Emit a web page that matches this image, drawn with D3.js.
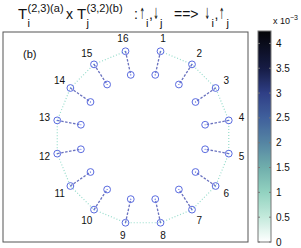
<!DOCTYPE html>
<html>
<head>
<meta charset="utf-8">
<script src="https://cdn.jsdelivr.net/npm/d3@7"></script>
<style>
  body { margin: 0; background: #fff; }
  text { font-family: "Liberation Sans", Arial, sans-serif; fill: #111; }
</style>
</head>
<body>
<svg></svg>
<script>
let width = 301, height = 248;

// sites on the ring (order 1..16), in ring-radius units
let siteIds = [1, 2, 3, 4, 5, 6, 7, 8, 9, 10, 11, 12, 13, 14, 15, 16];
let ringX = [0.20, 0.56, 0.83, 0.98, 0.98, 0.83, 0.56, 0.20, -0.20, -0.56, -0.83, -0.98, -0.98, -0.83, -0.56, -0.20];
let ringY = [0.98, 0.83, 0.56, 0.19, -0.19, -0.56, -0.83, -0.98, -0.98, -0.83, -0.56, -0.19, 0.19, 0.56, 0.83, 0.98];
// partner sites
let pairX = [0.14, 0.41, 0.60, 0.71, 0.71, 0.60, 0.41, 0.14, -0.14, -0.41, -0.60, -0.71, -0.71, -0.60, -0.41, -0.14];
let pairY = [0.71, 0.60, 0.40, 0.14, -0.14, -0.40, -0.60, -0.71, -0.71, -0.60, -0.40, -0.14, 0.14, 0.40, 0.60, 0.71];

// colorbar
let cbTicks = [0, 0.5, 1, 1.5, 2, 2.5, 3, 3.5, 4];
let cbMax = 4.25;
let cmapStops = [0, 0.5, 1, 1.5, 2, 2.5, 3, 3.5, 4.25];
let cmapColors = ["#ffffff", "#c4eadc", "#92d2c0", "#70aeac", "#5585a3", "#40609c", "#2f3f86", "#161c44", "#040407"];

let svg = d3.select("svg").attr("width", width).attr("height", height);

let x = d3.scaleLinear().domain([-1.6, 1.2]).range([3, 248]);
let y = d3.scaleLinear().domain([-1.2, 1.2]).range([242, 32]);

// plot box
svg.append("rect")
    .attr("x", 3).attr("y", 32).attr("width", 245).attr("height", 210)
    .attr("fill", "none").attr("stroke", "#555").attr("stroke-width", 1);

svg.append("text").attr("x", 23).attr("y", 58).attr("font-size", 11).text("(b)");

let sites = siteIds.map((id, i) => ({ id: id, x: ringX[i], y: ringY[i], px: pairX[i], py: pairY[i] }));

// ring bonds (dotted)
let ringLine = d3.line().x(d => x(d.x)).y(d => y(d.y));
svg.append("path")
    .attr("d", ringLine(sites))
    .attr("fill", "none")
    .attr("stroke", "#96dccb")
    .attr("stroke-width", 1.2)
    .attr("stroke-dasharray", "1,2");

// pair bonds (dashed)
svg.append("g").selectAll("line")
    .data(sites).enter().append("line")
    .attr("x1", d => x(d.x)).attr("y1", d => y(d.y))
    .attr("x2", d => x(d.px)).attr("y2", d => y(d.py))
    .attr("stroke", "#6a72bf")
    .attr("stroke-width", 1.3)
    .attr("stroke-dasharray", "2.5,1.5");

// markers
let pts = [];
sites.forEach(d => { pts.push([d.x, d.y]); pts.push([d.px, d.py]); });
let mk = svg.append("g").selectAll("g").data(pts).enter().append("g");
mk.append("circle")
    .attr("cx", d => x(d[0])).attr("cy", d => y(d[1])).attr("r", 3.4)
    .attr("fill", "none").attr("stroke", "#5a6be0").attr("stroke-width", 1);
mk.append("circle")
    .attr("cx", d => x(d[0])).attr("cy", d => y(d[1])).attr("r", 0.6)
    .attr("fill", "#5a6be0");

// site numbers, pushed out radially
svg.append("g").selectAll("text")
    .data(sites).enter().append("text")
    .attr("x", d => x(d.x) + 13 * d.x / Math.hypot(d.x, d.y))
    .attr("y", d => y(d.y) - 13 * d.y / Math.hypot(d.x, d.y))
    .attr("text-anchor", "middle")
    .attr("dominant-baseline", "central")
    .attr("font-size", 10)
    .text(d => d.id);

// colorbar
let cb = d3.scaleLinear().domain([0, cbMax]).range([242, 31]);
let cmap = d3.scaleLinear().domain(cmapStops).range(cmapColors);
let defs = svg.append("defs");
let grad = defs.append("linearGradient").attr("id", "cbgrad")
    .attr("x1", 0).attr("y1", 1).attr("x2", 0).attr("y2", 0);
d3.range(0, cbMax + 0.001, 0.05).forEach(v => {
    grad.append("stop").attr("offset", v / cbMax).attr("stop-color", cmap(v));
});
svg.append("rect")
    .attr("x", 258).attr("y", cb(cbMax)).attr("width", 13).attr("height", cb(0) - cb(cbMax))
    .attr("fill", "url(#cbgrad)").attr("stroke", "#777").attr("stroke-width", 1);

let tk = svg.append("g").selectAll("g").data(cbTicks).enter().append("g");
tk.append("line")
    .attr("x1", 258).attr("x2", 260).attr("y1", d => cb(d)).attr("y2", d => cb(d))
    .attr("stroke", "#777");
tk.append("line")
    .attr("x1", 269).attr("x2", 271).attr("y1", d => cb(d)).attr("y2", d => cb(d))
    .attr("stroke", "#777");
tk.append("text")
    .attr("x", 276).attr("y", d => cb(d))
    .attr("dominant-baseline", "central")
    .attr("font-size", 10)
    .text(d => d);

let ex = svg.append("text").attr("x", 273).attr("y", 24).attr("font-size", 9);
ex.append("tspan").text("x 10");
ex.append("tspan").attr("dy", -4).attr("font-size", 7).text("\u22123");

// title: pieces placed like TeX sub/superscripts
let title = svg.append("g");
function put(tx, ty, s, fs) {
    title.append("text").attr("x", tx).attr("y", ty).attr("font-size", fs).text(s);
}
function arrow(tx, ty, s) {
    // DejaVu arrow squeezed to a narrow glyph
    title.append("text")
        .attr("transform", "translate(" + tx + "," + ty + ") scale(0.42,1)")
        .attr("font-size", 15.5)
        .style("font-family", "'DejaVu Sans', sans-serif")
        .text(s);
}
put(18, 19, "T", 15);
put(27.5, 12, "(2,3)(a)", 11);
put(27.5, 27, "i", 11);
put(66, 19, "x", 14);
put(77, 19, "T", 15);
put(86.5, 12, "(3,2)(b)", 11);
put(86.5, 27, "j", 11);
put(134, 19, ":", 14);
arrow(139.5, 19, "\u2191");
put(146, 27, "i", 11);
put(149, 19, ",", 14);
arrow(153.3, 19, "\u2193");
put(160, 27, "j", 11);
put(174, 19, "==>", 14);
arrow(204.5, 19, "\u2193");
put(211.5, 27, "i", 11);
put(214.5, 19, ",", 14);
arrow(219, 19, "\u2191");
put(226.5, 27, "j", 11);
</script>
</body>
</html>
